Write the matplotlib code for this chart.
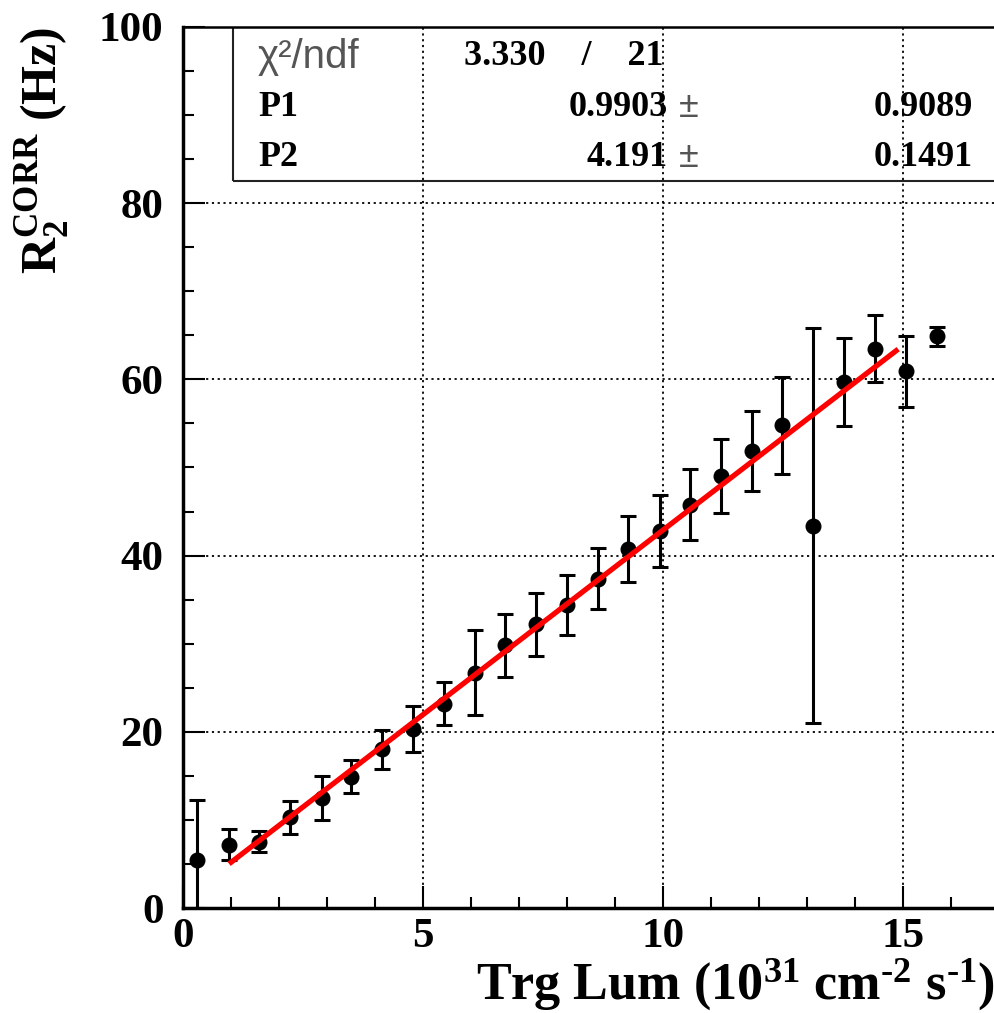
import matplotlib
matplotlib.use("Agg")
import matplotlib.pyplot as plt
from matplotlib.patches import Rectangle
import numpy as np

# luminosity bins and corrected rate
lum = [0.29, 0.96, 1.58, 2.23, 2.90, 3.50, 4.15, 4.79, 5.44, 6.08, 6.70, 7.35, 8.00,
       8.65, 9.27, 9.94, 10.56, 11.20, 11.85, 12.48, 13.13, 13.77, 14.42, 15.06, 15.70]
rate = [5.5, 7.2, 7.5, 10.3, 12.5, 14.9, 18.0, 20.3, 23.2, 26.7, 29.8, 32.2, 34.4,
        37.4, 40.7, 42.8, 45.8, 49.0, 51.9, 54.8, 43.4, 59.7, 63.5, 60.9, 64.9]
rate_err = [6.8, 1.8, 1.2, 1.9, 2.5, 1.9, 2.2, 2.6, 2.45, 4.8, 3.6, 3.6, 3.4,
            3.5, 3.75, 4.1, 4.05, 4.2, 4.55, 5.5, 22.4, 5.0, 3.8, 4.05, 1.1]

# fit result
fit_range = [0.96, 14.9]
par_names = ["P1", "P2"]
par_vals = [0.9903, 4.191]
par_errs = [0.9089, 0.1491]
chi2_txt = "3.330"
ndf_txt = "21"

xticks = [0, 5, 10, 15]
yticks = [0, 20, 40, 60, 80, 100]

plt.rcParams['font.family'] = ['Liberation Serif', 'DejaVu Serif']
plt.rcParams['font.weight'] = 'bold'
plt.rcParams['axes.labelweight'] = 'bold'
plt.rcParams['mathtext.fontset'] = 'custom'
plt.rcParams['mathtext.bf'] = 'Liberation Serif:bold'
plt.rcParams['mathtext.rm'] = 'Liberation Serif:bold'
plt.rcParams['mathtext.default'] = 'bf'

fig = plt.figure(figsize=(9.95, 10.13), dpi=100)
ax = fig.add_axes([183/995, 105/1013, 812/995, 881/1013])

ax.set_xlim(0, 812/48)
ax.set_ylim(0, 100)

# grid
ax.set_xticks(xticks)
ax.set_yticks(yticks)
ax.set_xticks(np.arange(0, 17, 1), minor=True)
ax.set_yticks(np.arange(0, 101, 5), minor=True)
ax.grid(True, which='major', color='black', linestyle=(0, (1.2, 2.0)), linewidth=1.3)
ax.set_axisbelow(True)

# stats box (grid shows through)
ax.add_patch(Rectangle((50/812, 1 - 154/881), 1.0, 154/881, transform=ax.transAxes,
                       fill=False, edgecolor='#222222', linewidth=1.5, zorder=1))

# fit line
fx = np.array(fit_range)
ax.plot(fx, par_vals[0] + par_vals[1]*fx, color='red', linewidth=3.8, zorder=4,
        solid_capstyle='butt')

ax.errorbar(lum, rate, yerr=rate_err, fmt='o', color='black', markersize=10.5,
            elinewidth=2.2, capsize=5.5, capthick=2.2, zorder=3)

ax.tick_params(axis='both', which='both', direction='in', labelsize=31, width=1.5)
ax.tick_params(axis='both', which='major', length=16)
ax.tick_params(axis='both', which='minor', length=8)
ax.tick_params(axis='x', pad=7)
ax.tick_params(axis='y', pad=14)
ax.xaxis.set_ticks_position('bottom')
ax.yaxis.set_ticks_position('left')

ax.spines['right'].set_visible(False)
ax.spines['left'].set_linewidth(2.5)
ax.spines['bottom'].set_linewidth(2.5)
ax.spines['top'].set_linewidth(1.8)

ax.set_xlabel(r"Trg Lum (10$^{31}$ cm$^{\text{-}2}$ s$^{\text{-}1}$)", fontsize=37.5,
              loc='right', labelpad=0)
ax.set_ylabel(r"R$_2^{CORR}$ (Hz)", fontsize=36, loc='top', labelpad=20)

# stats text
rows_y = [1 - 30/881, 1 - 81/881, 1 - 131/881]
lx = 75/812
ax.text(lx, rows_y[0], "χ²/ndf", transform=ax.transAxes, fontsize=29,
        family=['Liberation Sans', 'DejaVu Sans'], fontweight='normal', color='#555555',
        va='center', ha='left')
ax.text(480/812, rows_y[0], chi2_txt + "    /    " + ndf_txt, transform=ax.transAxes,
        fontsize=26, va='center', ha='right')
for i in range(2):
    y = rows_y[i + 1]
    ax.text(lx, y, par_names[i], transform=ax.transAxes, fontsize=26, va='center', ha='left')
    ax.text(485/812, y, "%g" % par_vals[i], transform=ax.transAxes, fontsize=26,
            va='center', ha='right')
    ax.text(496/812, y, "±", transform=ax.transAxes, fontsize=26, fontweight='normal',
            family=['Liberation Sans', 'DejaVu Sans'], color='#555555', va='center', ha='left')
    ax.text(790/812, y, "%.4f" % par_errs[i], transform=ax.transAxes, fontsize=26,
            va='center', ha='right')

fig.savefig("out.png", dpi=100)
